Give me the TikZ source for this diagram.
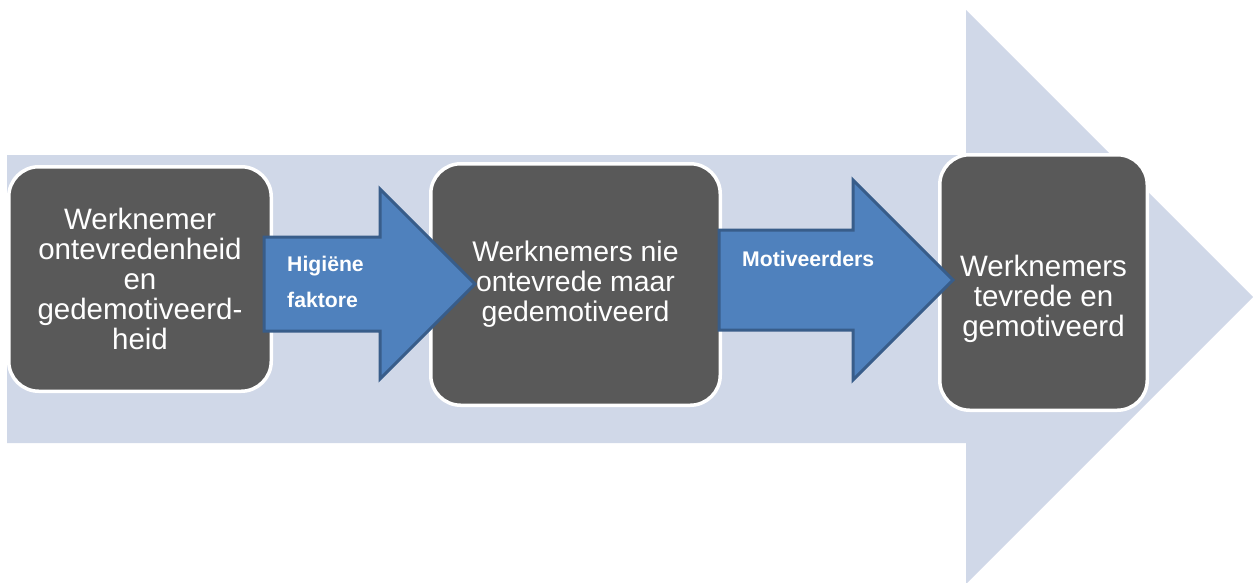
\documentclass[tikz,border=0pt]{standalone}
\usepackage{fontspec}
\setmainfont{Liberation Sans}
\definecolor{bgblue}{HTML}{D0D8E8}
\definecolor{boxgrey}{HTML}{595959}
\definecolor{arrowblue}{HTML}{4F81BD}
\definecolor{arrowline}{HTML}{385D8A}
\begin{document}
\begin{tikzpicture}[x=1pt,y=-1pt,
	box/.style={draw=white,fill=boxgrey,line width=3.5pt,rounded corners=30pt,text=white,align=center,inner sep=0pt,font=\fontsize{29.5}{30}\selectfont},
	blockarrow/.style={draw=arrowline,fill=arrowblue,line width=3pt,line join=miter},
	lbl/.style={text=white,align=left,inner sep=0pt,font=\bfseries\fontsize{21.2}{36}\selectfont}]
	\useasboundingbox (0,0) rectangle (1253,582);
	\clip (0,0) rectangle (1253,582);
	% big background arrow
	\fill[bgblue] (7,155)--(966,155)--(966,10)--(1253,297)--(966,584)--(966,443)--(7,443)--cycle;
	% the three stages
	\node[box,minimum width=262.5pt,minimum height=224.5pt] (werk1) at (140,279) {Werknemer\\ontevredenheid\\en\\gedemotiveerd-\\heid};
	\node[box,minimum width=289.5pt,minimum height=241.5pt,font=\fontsize{28.4}{30}\selectfont] (werk2) at (575.5,284.5) {Werknemers nie\\ontevrede maar\\gedemotiveerd};
	\node[box,minimum width=207.5pt,minimum height=255.5pt] (werk3) at (1043.5,282.5) {\rule{0pt}{54pt}Werknemers\\tevrede en\\gemotiveerd};
	% block arrows between the stages
	\coordinate (hig) at (264,284);
	\coordinate (mot) at (719,280);
	\draw[blockarrow] (hig)++(0,-47)--++(116,0)--++(0,-48)--++(95,95)--++(-95,95)--++(0,-48)--++(-116,0)--cycle;
	\draw[blockarrow] (mot)++(0,-50)--++(134,0)--++(0,-50)--++(100,100)--++(-100,100)--++(0,-50)--++(-134,0)--cycle;
	\node[lbl,anchor=north west] (higl) at (287,255.5) {Higiëne\\faktore};
	\node[lbl,anchor=north west] (motl) at (742,251) {Motiveerders};
\end{tikzpicture}
\end{document}
